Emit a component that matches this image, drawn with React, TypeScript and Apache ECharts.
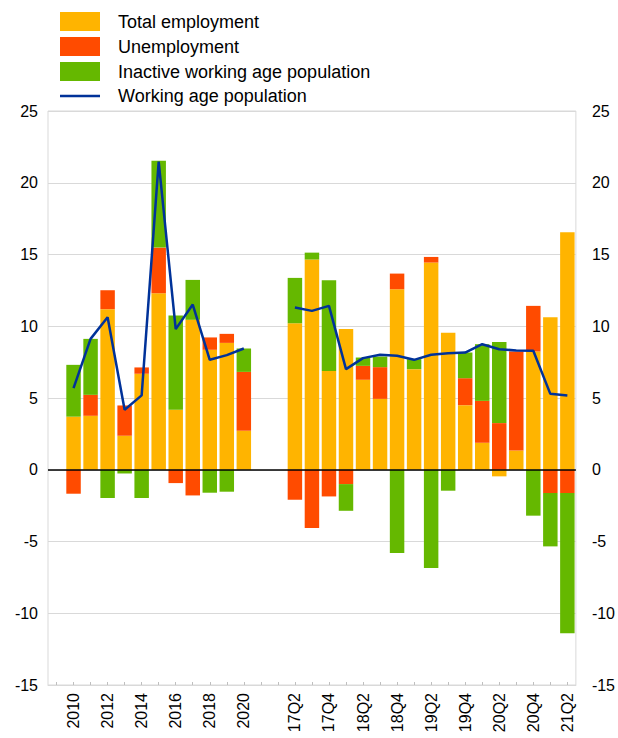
import React, { useEffect, useRef } from "react";
import * as echarts from "echarts";

const years = ["2010", "2011", "2012", "2013", "2014", "2015", "2016", "2017", "2018", "2019", "2020"];
const quarters = ["17Q2", "17Q3", "17Q4", "18Q1", "18Q2", "18Q3", "18Q4", "19Q1", "19Q2", "19Q3", "19Q4", "20Q1", "20Q2", "20Q3", "20Q4", "21Q1", "21Q2"];

const yearEmployment = [3.7, 3.76, 11.19, 2.37, 6.69, 12.3, 4.18, 10.45, 8.36, 8.84, 2.72];
const yearUnemployment = [-1.67, 1.46, 1.32, 2.11, 0.44, 3.18, -0.93, -1.79, 0.86, 0.63, 4.1];
const yearInactive = [3.61, 3.9, -1.97, -0.26, -1.97, 6.06, 6.57, 2.78, -1.6, -1.53, 1.63];
const yearPopulation = [5.69, 9.12, 10.63, 4.18, 5.18, 21.47, 9.8, 11.51, 7.66, 7.99, 8.45];

const qEmployment = [10.21, 14.65, 6.89, 9.8, 6.27, 4.94, 12.58, 7.01, 14.44, 9.54, 4.5, 1.88, -0.46, 1.35, 8.24, 10.63, 16.55];
const qUnemployment = [-2.09, -4.06, -1.86, -1.0, 0.97, 2.21, 1.09, 0, 0.39, 0, 1.88, 2.92, 3.25, 6.89, 3.18, -1.62, -1.62];
const qInactive = [3.16, 0.48, 6.32, -1.86, 0.58, 0.74, -5.8, 0.7, -6.85, -1.46, 1.79, 3.95, 5.66, 0, -3.2, -3.72, -9.78];
const qPopulation = [11.3, 11.07, 11.42, 7.01, 7.78, 8.01, 7.94, 7.66, 8.01, 8.12, 8.17, 8.75, 8.4, 8.31, 8.29, 5.29, 5.18];

const shownLabels = ["2010", "2012", "2014", "2016", "2018", "2020", "17Q2", "17Q4", "18Q2", "18Q4", "19Q2", "19Q4", "20Q2", "20Q4", "21Q2"];

const categories = ["", ...years, " ", "  ", ...quarters];
const join = (a: (number | null)[], b: (number | null)[]) => [null, ...a, null, null, ...b];

const FONT = 'Arial, "Liberation Sans", sans-serif';

export default function App() {
  const ref = useRef<HTMLDivElement>(null);
  useEffect(() => {
    if (!ref.current) return;
    const chart = echarts.init(ref.current, undefined, { renderer: "svg" });
    const barCommon = {
      type: "bar",
      stack: "total",
      barCategoryGap: "15%",
      yAxisIndex: 0,
    };
    chart.setOption({
      animation: false,
      textStyle: { fontFamily: FONT },
      legend: {
        orient: "vertical",
        left: 55,
        top: 7,
        itemWidth: 40,
        itemHeight: 19,
        itemGap: 6,
        textStyle: { fontFamily: FONT, fontSize: 18, color: "#000", padding: [0, 0, 0, 13] },
        data: [
          { name: "Total employment", icon: "rect" },
          { name: "Unemployment", icon: "rect" },
          { name: "Inactive working age population", icon: "rect" },
          { name: "Working age population", icon: "path://M0,0H40V2.5H0Z" },
        ],
      },
      grid: {
        left: 48,
        right: 42,
        top: 111,
        bottom: 53,
        show: true,
        borderColor: "#d9d9d9",
        borderWidth: 1,
      },
      xAxis: {
        type: "category",
        data: categories,
        boundaryGap: true,
        axisLine: { onZero: false, show: true, lineStyle: { color: "#d9d9d9" } },
        axisTick: { show: true, inside: true, length: 3, interval: 0, alignWithLabel: true, lineStyle: { color: "#bfbfbf" } },
        axisLabel: {
          rotate: 90,
          margin: 8,
          fontSize: 16,
          color: "#000",
          fontFamily: FONT,
          interval: (_i: number, v: string) => shownLabels.includes(v),
        },
      },
      yAxis: [
        {
          type: "value",
          min: -15,
          max: 25,
          interval: 5,
          axisLine: { show: false },
          axisTick: { show: false },
          axisLabel: { fontSize: 16, color: "#000", margin: 10, fontFamily: FONT },
          splitLine: { show: true, lineStyle: { color: "#d9d9d9", width: 1 } },
        },
        {
          type: "value",
          min: -15,
          max: 25,
          interval: 5,
          position: "right",
          axisLine: { show: false },
          axisTick: { show: false },
          axisLabel: { fontSize: 16, color: "#000", margin: 16, fontFamily: FONT },
          splitLine: { show: false },
        },
      ],
      series: [
        {
          ...barCommon,
          name: "Total employment",
          itemStyle: { color: "#FFB400" },
          data: join(yearEmployment, qEmployment),
          markLine: {
            silent: true,
            symbol: "none",
            label: { show: false },
            lineStyle: { color: "#000", width: 1.5, type: "solid" },
            data: [{ yAxis: 0 }],
          },
        },
        {
          ...barCommon,
          name: "Unemployment",
          itemStyle: { color: "#FF4B00" },
          data: join(yearUnemployment, qUnemployment),
        },
        {
          ...barCommon,
          name: "Inactive working age population",
          itemStyle: { color: "#65B800" },
          data: join(yearInactive, qInactive),
        },
        {
          type: "line",
          name: "Working age population",
          yAxisIndex: 0,
          symbol: "none",
          showSymbol: false,
          lineStyle: { color: "#003299", width: 2.5 },
          itemStyle: { color: "#003299" },
          data: join(yearPopulation, qPopulation),
          z: 5,
        },
      ],
    });
    return () => chart.dispose();
  }, []);
  return <div ref={ref} style={{ position: "absolute", left: 0, top: 0, width: 618, height: 738 }} />;
}
